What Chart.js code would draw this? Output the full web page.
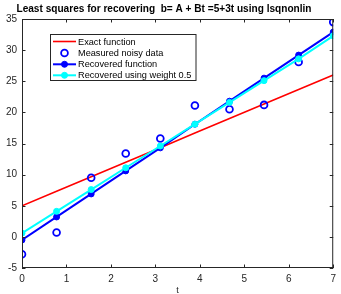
<!DOCTYPE html>
<html><head><meta charset="utf-8">
<script src="https://cdn.jsdelivr.net/npm/chart.js@4.4.0/dist/chart.umd.min.js"></script>
<style>html,body{margin:0;padding:0;background:#fff}#w{width:341px;height:294px}</style>
</head><body><div id="w"><canvas id="c" width="341" height="294"></canvas></div>
<script>
const titleText = "Least squares for recovering  b= A + Bt =5+3t using lsqnonlin";
const xLabel = "t";
const tValues = [0, 0.778, 1.556, 2.333, 3.111, 3.889, 4.667, 5.444, 6.222, 7];
const exactValues = [5, 7.33, 9.67, 12, 14.33, 16.67, 19, 21.33, 23.67, 26];
const measuredValues = [-2.8, 0.7, 9.5, 13.4, 15.8, 21.1, 20.5, 21.2, 28.1, 34.5];
const recoveredValues = [-0.5, 3.2, 6.9, 10.6, 14.3, 18.1, 21.8, 25.5, 29.2, 32.9];
const weightedValues = [0.6, 4.1, 7.6, 11.1, 14.6, 18.1, 21.6, 25.1, 28.6, 32.3];
const labels = ["Exact function", "Measured noisy data", "Recovered function", "Recovered using weight 0.5"];
const xTicks = [0, 1, 2, 3, 4, 5, 6, 7];
const yTicks = [-5, 0, 5, 10, 15, 20, 25, 30, 35];

const pts = v => tValues.map((t, i) => ({x: t, y: v[i]}));
const FONT = '"Liberation Sans", Arial, Helvetica, sans-serif';
const AX = '#262626';

const boxPlugin = {
  id: 'box',
  afterDraw(chart) {
    const {ctx, chartArea: a, scales} = chart;
    ctx.save();
    ctx.strokeStyle = AX; ctx.lineWidth = 1;
    ctx.strokeRect(a.left + 0.5, a.top + 0.5, a.right - a.left - 1, a.bottom - a.top - 1);
    const L = 3.5;
    ctx.beginPath();
    xTicks.forEach(v => {
      const x = Math.round(scales.x.getPixelForValue(v)) + 0.5;
      ctx.moveTo(x, a.bottom); ctx.lineTo(x, a.bottom - L);
      ctx.moveTo(x, a.top); ctx.lineTo(x, a.top + L);
    });
    yTicks.forEach(v => {
      const y = Math.round(scales.y.getPixelForValue(v)) + 0.5;
      ctx.moveTo(a.left, y); ctx.lineTo(a.left + L, y);
      ctx.moveTo(a.right, y); ctx.lineTo(a.right - L, y);
    });
    ctx.stroke();
    // title
    ctx.fillStyle = '#000';
    ctx.font = 'bold 10.1px ' + FONT;
    ctx.textAlign = 'center'; ctx.textBaseline = 'middle';
    ctx.fillText(titleText, 164, 9);
    // x label
    ctx.fillStyle = AX;
    ctx.font = '9px ' + FONT;
    ctx.fillText(xLabel, (a.left + a.right) / 2, 291);
    // legend
    const bx = 50.5, by = 34.5, bw = 145.5, bh = 46;
    ctx.fillStyle = '#fff';
    ctx.fillRect(bx, by, bw, bh);
    ctx.strokeStyle = AX; ctx.lineWidth = 1;
    ctx.strokeRect(bx, by, bw, bh);
    const rows = [41.5, 53, 64.3, 75.3];
    chart.data.datasets.forEach((ds, i) => {
      const y = rows[i];
      if (ds.showLine !== false) {
        ctx.strokeStyle = ds.borderColor; ctx.lineWidth = ds.borderWidth;
        ctx.beginPath(); ctx.moveTo(53, y); ctx.lineTo(76, y); ctx.stroke();
      }
      if (ds.pointRadius > 0) {
        ctx.beginPath(); ctx.arc(64.5, y, ds.pointRadius, 0, Math.PI * 2);
        if (ds.pointBackgroundColor !== 'transparent') { ctx.fillStyle = ds.pointBackgroundColor; ctx.fill(); }
        ctx.strokeStyle = ds.pointBorderColor; ctx.lineWidth = ds.pointBorderWidth; ctx.stroke();
      }
      ctx.fillStyle = '#000';
      ctx.font = '9.2px ' + FONT;
      ctx.textAlign = 'left'; ctx.textBaseline = 'middle';
      ctx.fillText(ds.label, 78, y + 0.5);
    });
    ctx.restore();
  }
};

new Chart(document.getElementById('c'), {
  type: 'line',
  data: {
    datasets: [
      {label: labels[0], data: pts(exactValues), borderColor: '#ff0000', borderWidth: 1.6, pointRadius: 0, order: 4},
      {label: labels[1], data: pts(measuredValues), showLine: false, borderColor: '#0000ff', pointRadius: 3.4, pointBorderWidth: 1.8, pointBorderColor: '#0000ff', pointBackgroundColor: 'transparent', order: 3},
      {label: labels[2], data: pts(recoveredValues), borderColor: '#0000ff', borderWidth: 2, pointRadius: 3, pointBorderWidth: 1, pointBorderColor: '#0000ff', pointBackgroundColor: '#0000ff', order: 2},
      {label: labels[3], data: pts(weightedValues), borderColor: '#00ffff', borderWidth: 2, pointRadius: 3, pointBorderWidth: 1, pointBorderColor: '#00ffff', pointBackgroundColor: '#00ffff', order: 1}
    ]
  },
  options: {
    responsive: false, animation: false, devicePixelRatio: 1,
    layout: {padding: {top: 19, right: 4, left: 0, bottom: 0}},
    plugins: {legend: {display: false}, tooltip: {enabled: false}, title: {display: false}},
    elements: {line: {tension: 0}},
    scales: {
      x: {
        type: 'linear', min: 0, max: 7,
        afterBuildTicks: s => { s.ticks = xTicks.map(v => ({value: v})); },
        grid: {display: false, drawTicks: false}, border: {display: false},
        ticks: {padding: 5, color: AX, font: {family: FONT, size: 10}, maxRotation: 0},
        afterFit: s => { s.height = 26; }
      },
      y: {
        type: 'linear', min: -5, max: 35,
        afterBuildTicks: s => { s.ticks = yTicks.map(v => ({value: v})); },
        grid: {display: false, drawTicks: false}, border: {display: false},
        ticks: {padding: 5, color: AX, font: {family: FONT, size: 10}},
        afterFit: s => { s.width = 22; }
      }
    }
  },
  plugins: [boxPlugin]
});
</script></body></html>
